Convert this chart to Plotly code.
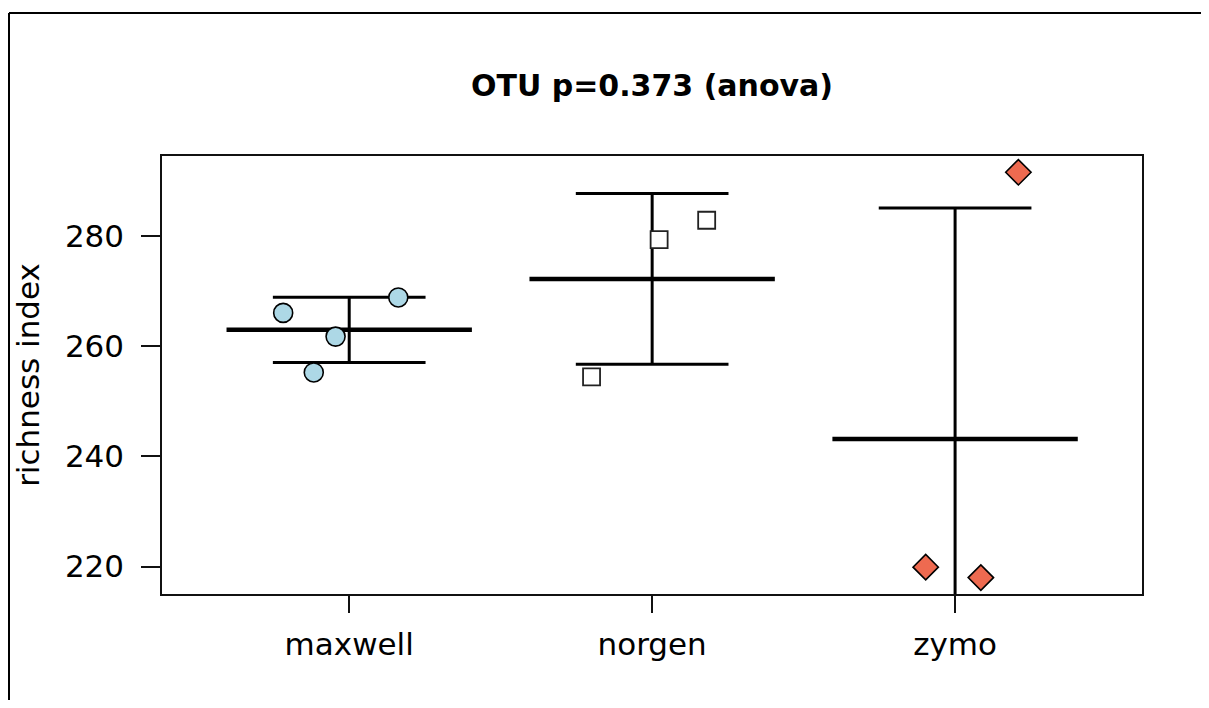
import numpy as np
import plotly.graph_objects as go

# ---- data ----
groups = ["maxwell", "norgen", "zymo"]
group_pos = [1, 2, 3]
maxwell_x = [0.782, 1.162, 0.955, 0.883]   # jittered positions
maxwell_y = [266.0, 268.8, 261.7, 255.2]
norgen_x = [2.023, 2.180, 1.800]
norgen_y = [279.3, 282.8, 254.4]
zymo_x = [3.209, 2.903, 3.085]
zymo_y = [291.5, 219.9, 218.0]
y_ticks = [220, 240, 260, 280]
title_text = "OTU p=0.373 (anova)"
y_title = "richness index"

FONT = "DejaVu Sans"
INK = "#111111"
MEAN_HW = 0.405
SD_HW = 0.252

group_values = [maxwell_y, norgen_y, zymo_y]

fig = go.Figure()

mean_x, mean_y, cap_x, cap_y, vert_x, vert_y = [], [], [], [], [], []
for p, vals in zip(group_pos, group_values):
    m = float(np.mean(vals))
    s = float(np.std(vals, ddof=1))
    mean_x += [p - MEAN_HW, p + MEAN_HW, None]
    mean_y += [m, m, None]
    cap_x += [p - SD_HW, p + SD_HW, None, p - SD_HW, p + SD_HW, None]
    cap_y += [m + s, m + s, None, m - s, m - s, None]
    vert_x += [p, p, None]
    vert_y += [m - s, m + s, None]

fig.add_trace(go.Scatter(x=vert_x, y=vert_y, mode="lines",
                         line=dict(color="black", width=3), hoverinfo="skip"))
fig.add_trace(go.Scatter(x=cap_x, y=cap_y, mode="lines",
                         line=dict(color="black", width=3), hoverinfo="skip"))
fig.add_trace(go.Scatter(x=mean_x, y=mean_y, mode="lines",
                         line=dict(color="black", width=4.5), hoverinfo="skip"))

fig.add_trace(go.Scatter(x=maxwell_x, y=maxwell_y, mode="markers", name="maxwell",
                         marker=dict(symbol="circle", size=19, color="#ADD8E6",
                                     line=dict(color="black", width=1.6))))
fig.add_trace(go.Scatter(x=norgen_x, y=norgen_y, mode="markers", name="norgen",
                         marker=dict(symbol="square", size=17, color="white",
                                     line=dict(color="#222222", width=1.8))))
fig.add_trace(go.Scatter(x=zymo_x, y=zymo_y, mode="markers", name="zymo",
                         marker=dict(symbol="diamond", size=19.5, color="#EE6A50",
                                     line=dict(color="black", width=1.6))))

# page body has an 8px margin; size the figure so the page does not overflow
OFF = 8
W, H = 1209 - 2 * OFF, 708 - 2 * OFF
L, T = 162 - OFF, 156 - OFF
R, B = OFF + W - 1142, OFF + H - 594
pw, ph = W - L - R, H - T - B

fig.update_layout(
    width=W, height=H,
    margin=dict(l=L, r=R, t=T, b=B, pad=0),
    paper_bgcolor="white", plot_bgcolor="white",
    showlegend=False,
    font=dict(family=FONT, size=31, color="black"),
    title=dict(text=title_text, x=0.5, xref="paper", xanchor="center",
               y=1 - (85 - OFF) / H, yref="container", yanchor="middle",
               font=dict(family=FONT, size=30, color="black", weight="bold")),
    xaxis=dict(range=[0.382, 3.617], tickmode="array", tickvals=group_pos,
               ticktext=groups, showgrid=False, zeroline=False,
               ticks="outside", ticklen=17, tickwidth=1.5, tickcolor=INK,
               showline=True, mirror=True, linecolor=INK, linewidth=1.5,
               tickfont=dict(family=FONT, size=31, color="black"),
               ticklabelstandoff=5),
    yaxis=dict(range=[215.03, 294.45], tickmode="array", tickvals=y_ticks,
               showgrid=False, zeroline=False,
               ticks="outside", ticklen=19, tickwidth=1.5, tickcolor=INK,
               showline=True, mirror=True, linecolor=INK, linewidth=1.5,
               tickfont=dict(family=FONT, size=31, color="black"),
               ticklabelstandoff=11,
               title=dict(text=y_title, standoff=16,
                          font=dict(family=FONT, size=31, color="black"))),
)

# outer device border: only top and left edges are visible in the frame
bx0 = (9 - OFF - L) / pw
bx1 = (W + 30 - L) / pw
by0 = (T + ph - (13 - OFF)) / ph
by1 = (T + ph - (H + 30)) / ph
fig.add_shape(type="line", xref="paper", yref="paper",
              x0=bx0, x1=bx1, y0=by0, y1=by0,
              line=dict(color="black", width=2))
fig.add_shape(type="line", xref="paper", yref="paper",
              x0=bx0, x1=bx0, y0=by0, y1=by1,
              line=dict(color="black", width=2))

fig.write_html("out.html", config={"displayModeBar": False})
